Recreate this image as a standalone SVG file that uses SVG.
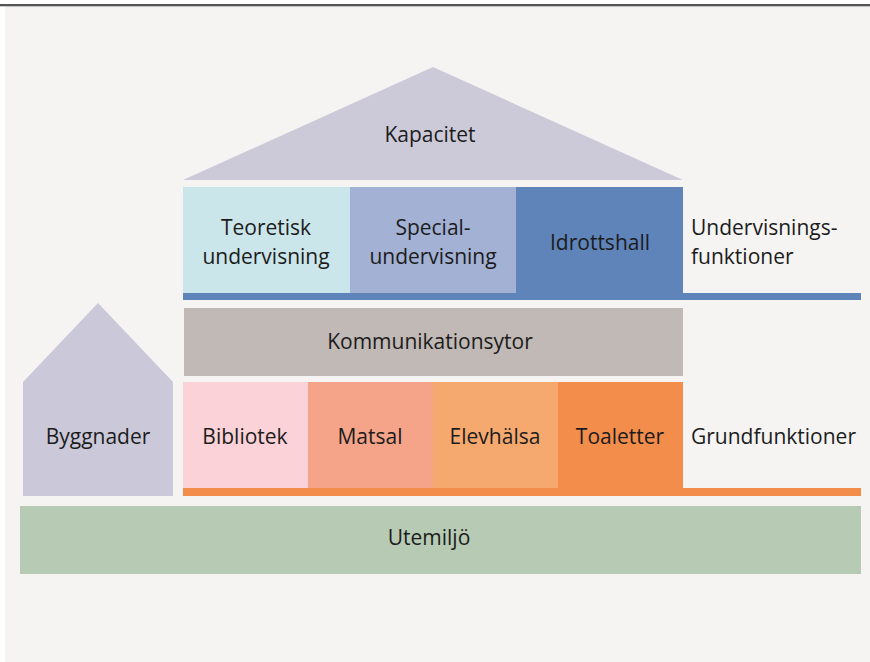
<svg xmlns="http://www.w3.org/2000/svg" width="870" height="662" viewBox="0 0 870 662">
<style>
text{font-family:"Open Sans","Liberation Sans",sans-serif;font-size:21px;fill:#1c1c1c}
.c{text-anchor:middle}
</style>
<rect x="0" y="0" width="870" height="662" fill="#ffffff"/>
<rect x="5" y="6" width="865" height="656" fill="#f5f4f2"/>
<rect x="0" y="4" width="870" height="2.3" fill="#555555"/>
<g id="kapacitet">
<polygon points="433,67 683,180 183,180" fill="#cccad9"/>
<text class="c" x="430" y="142">Kapacitet</text>
</g>
<g id="teoretisk">
<rect x="183" y="187" width="167" height="106" fill="#cbe6ea"/>
<text class="c" x="266" y="235">Teoretisk</text>
<text class="c" x="266" y="264">undervisning</text>
</g>
<g id="special">
<rect x="350" y="187" width="166" height="106" fill="#a3b1d4"/>
<text class="c" x="433" y="235">Special-</text>
<text class="c" x="433" y="264">undervisning</text>
</g>
<g id="idrottshall">
<rect x="516" y="187" width="167" height="106" fill="#5f84b9"/>
<text class="c" x="600" y="250">Idrottshall</text>
</g>
<g id="undervisningsfunktioner">
<rect x="183" y="293" width="678" height="7" fill="#5f84b9"/>
<text x="691" y="235">Undervisnings-</text>
<text x="691" y="264">funktioner</text>
</g>
<g id="kommunikationsytor">
<rect x="184" y="308" width="499" height="68" fill="#c1b9b5"/>
<text class="c" x="430" y="349">Kommunikationsytor</text>
</g>
<g id="byggnader">
<polygon points="98,303 173,382 173,496 23,496 23,382" fill="#cbc9d9"/>
<text class="c" x="98" y="444">Byggnader</text>
</g>
<g id="bibliotek">
<rect x="183" y="382" width="125" height="106" fill="#fad2d7"/>
<text class="c" x="245" y="444">Bibliotek</text>
</g>
<g id="matsal">
<rect x="308" y="382" width="125" height="106" fill="#f5a48a"/>
<text class="c" x="370" y="444">Matsal</text>
</g>
<g id="elevhalsa">
<rect x="433" y="382" width="125" height="106" fill="#f6a96f"/>
<text class="c" x="495" y="444">Elevhälsa</text>
</g>
<g id="toaletter">
<rect x="558" y="382" width="125" height="106" fill="#f38d4c"/>
<text class="c" x="620" y="444">Toaletter</text>
</g>
<g id="grundfunktioner">
<rect x="183" y="488" width="678" height="8" fill="#f38d4c"/>
<text x="691" y="444">Grundfunktioner</text>
</g>
<g id="utemiljo">
<rect x="20" y="506" width="841" height="68" fill="#b7cbb4"/>
<text class="c" x="429" y="545">Utemiljö</text>
</g>
<g id="connectors"></g>
</svg>
